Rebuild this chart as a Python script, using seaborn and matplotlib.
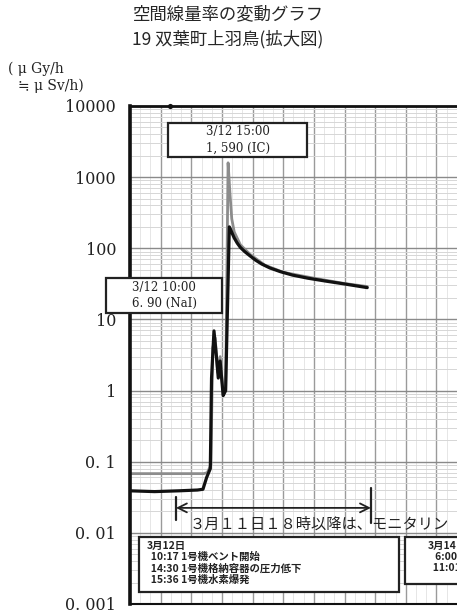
import matplotlib
matplotlib.use('Agg')
import matplotlib.pyplot as plt
import matplotlib.ticker as mticker
from matplotlib.patches import Rectangle
import pandas as pd
import seaborn as sns

# Title
title_line1 = '空間線量率の変動グラフ'
title_line2 = '19 双葉町上羽鳥(拡大図)'

# NaI detector (black line), x = day of March
nai_day = [11.0, 11.4, 11.8, 12.1, 12.19, 12.25, 12.31, 12.33, 12.37, 12.41, 12.44,
           12.47, 12.52, 12.56, 12.62, 12.64, 12.67, 12.70, 12.75, 12.80, 12.87,
           12.96, 13.05, 13.15, 13.28, 13.45, 13.65, 13.9, 14.2, 14.5, 14.87]
nai_val = [0.039, 0.038, 0.039, 0.040, 0.041, 0.06, 0.08, 1.5, 6.9, 3.0, 1.5,
           2.6, 0.85, 1.0, 200, 185, 160, 140, 118, 103, 90,
           78, 68, 60, 53, 47, 42, 38, 34.5, 31.5, 28]

# IC detector (grey line)
ic_day = [11.0, 11.6, 12.2, 12.26, 12.32, 12.35, 12.39, 12.43, 12.47, 12.52,
          12.56, 12.60, 12.63, 12.66, 12.70, 12.8, 12.96, 13.2, 13.5, 14.0,
          14.5, 14.87]
ic_val = [0.068, 0.068, 0.068, 0.07, 0.09, 4.0, 5.5, 1.8, 3.0, 0.9,
          1.0, 1590, 600, 260, 170, 112, 82, 58, 46, 38,
          32, 29]

# stray point at the top of the scale
spike_day = [11.65]
spike_val = [10000]

y_ticks = [0.001, 0.01, 0.1, 1, 10, 100, 1000, 10000]
y_tick_labels = ['0. 001', '0. 01', '0. 1', '1', '10', '100', '1000', '10000']
x_ticks = [11, 12, 13, 14, 15, 16]

# Annotations
peak_ic_note = '3/12 15:00\n1, 590 (IC)'
peak_nai_note = '3/12 10:00\n6. 90 (NaI)'
monitor_note = '３月１１日１８時以降は、モニタリン'
events_0312 = '3月12日\n  10:17 1号機ベント開始\n  14:30 1号機格納容器の圧力低下\n  15:36 1号機水素爆発'
events_next = '3月14日\n   6:00\n  11:01 3号機水素爆発'
gap_start, gap_end = 11.75, 14.93

df_nai = pd.DataFrame({'day': nai_day, 'rate': nai_val})
df_ic = pd.DataFrame({'day': ic_day, 'rate': ic_val})

sns.set_style('white')
plt.rcParams['font.family'] = ['DejaVu Serif', 'Noto Sans CJK JP']

W, H = 457, 615
fig = plt.figure(figsize=(W / 100, H / 100), dpi=100)
ax = fig.add_axes([130 / W, 1 - 604 / H, 1 - 130 / W, (604 - 106) / H])

sns.lineplot(data=df_ic, x='day', y='rate', color='#8c8c8c', linewidth=2.0,
             estimator=None, sort=False, ax=ax)
sns.lineplot(data=df_nai, x='day', y='rate', color='#111111', linewidth=2.3,
             estimator=None, sort=False, ax=ax)
sns.scatterplot(x=spike_day, y=spike_val, color='#111111', s=14, linewidth=0,
                ax=ax, clip_on=False, zorder=6)

ax.set_yscale('log')
ax.set_ylim(0.001, 10000)
ax.set_xlim(11, 11 + (W - 130) / 61.3)
ax.set_yticks(y_ticks)
ax.set_yticklabels(y_tick_labels)
ax.yaxis.set_minor_locator(mticker.LogLocator(base=10, subs=range(2, 10), numticks=20))
ax.yaxis.set_minor_formatter(mticker.NullFormatter())
ax.set_xticks(x_ticks)
ax.set_xticklabels([str(t) for t in x_ticks])
ax.xaxis.set_minor_locator(mticker.MultipleLocator(0.5))
ax.set_xlabel('')
ax.set_ylabel('')

ax.tick_params(axis='y', which='major', direction='out', length=7, width=1.2,
               labelsize=11.5, pad=3, colors='#222222')
ax.tick_params(axis='y', which='minor', length=0)
ax.tick_params(axis='x', which='major', direction='out', length=3, width=1.2,
               labelsize=11, pad=5, colors='#222222')
ax.tick_params(axis='x', which='minor', length=0)

# grid: half-day verticals, decade horizontals, light minor lines
ax.grid(True, which='major', axis='y', color='#8a8a8a', linewidth=1.0)
ax.grid(True, which='minor', axis='y', color='#d6d6d6', linewidth=0.7)
ax.grid(True, which='both', axis='x', color='#9a9a9a', linewidth=1.0)
for d in [11 + k / 6 for k in range(0, 33)]:
    ax.axvline(d, color='#e2e2e2', linewidth=0.6, zorder=0)
ax.set_axisbelow(True)

ax.spines['left'].set_linewidth(2.6)
ax.spines['top'].set_linewidth(2.0)
ax.spines['bottom'].set_linewidth(1.5)
ax.spines['right'].set_visible(False)
for s in ['left', 'top', 'bottom']:
    ax.spines[s].set_color('#111111')

# peak boxes
box_kw = dict(fill=True, facecolor='white', edgecolor='#222222', linewidth=1.6,
              transform=ax.transAxes, clip_on=False, zorder=5)
ax.add_patch(Rectangle((0.116, 0.898), 0.425, 0.068, **box_kw))
ax.text(0.329, 0.932, peak_ic_note, transform=ax.transAxes, ha='center', va='center',
        fontsize=8.5, linespacing=1.3, zorder=6, color='#222222')
ax.add_patch(Rectangle((-0.073, 0.584), 0.354, 0.071, **box_kw))
ax.text(0.104, 0.620, peak_nai_note, transform=ax.transAxes, ha='center', va='center',
        fontsize=8.5, linespacing=1.3, zorder=6, color='#222222', clip_on=False)

# monitoring gap arrow |<---->|
trans = ax.get_xaxis_transform()
ax.annotate('', xy=(gap_start, 0.193), xytext=(gap_end, 0.193), xycoords=trans,
            arrowprops=dict(arrowstyle='<->', color='#222222', lw=1.3,
                            mutation_scale=16, shrinkA=0, shrinkB=0))
ax.plot([gap_start, gap_start], [0.169, 0.215], color='#222222', lw=1.6, transform=trans)
ax.plot([gap_end, gap_end], [0.163, 0.233], color='#222222', lw=1.6, transform=trans)
ax.text(0.183, 0.161, monitor_note, transform=ax.transAxes, ha='left', va='center',
        fontsize=11, color='#222222', family=['Noto Sans CJK JP'], clip_on=True)

# event boxes
ax.add_patch(Rectangle((0.0275, 0.024), 0.7955, 0.1105, **box_kw))
ax.text(0.05, 0.127, events_0312, transform=ax.transAxes, ha='left', va='top',
        fontsize=7.5, linespacing=1.15, zorder=6, color='#222222',
        family=['Noto Sans CJK JP'], weight='bold')
ax.add_patch(Rectangle((0.841, 0.040), 0.25, 0.0945, **box_kw))
ax.text(0.911, 0.127, events_next, transform=ax.transAxes, ha='left', va='top',
        fontsize=7.5, linespacing=1.15, zorder=6, color='#222222',
        family=['Noto Sans CJK JP'], weight='bold', clip_on=True)

# unit label and title
fig.text(8 / W, 1 - 69 / H, '( μ Gy/h', fontsize=10, ha='left', va='center',
         color='#222222', family=['DejaVu Serif', 'Noto Sans CJK JP'])
fig.text(18 / W, 1 - 86 / H, '≒ μ Sv/h)', fontsize=10, ha='left', va='center',
         color='#222222', family=['DejaVu Serif', 'Noto Sans CJK JP'])
fig.text(228 / W, 1 - 14 / H, title_line1, fontsize=12.5, ha='center', va='center',
         family=['Noto Sans CJK JP'])
fig.text(228 / W, 1 - 39 / H, title_line2, fontsize=12.5, ha='center', va='center',
         family=['Noto Sans CJK JP'])

fig.savefig('out.png', dpi=100)
